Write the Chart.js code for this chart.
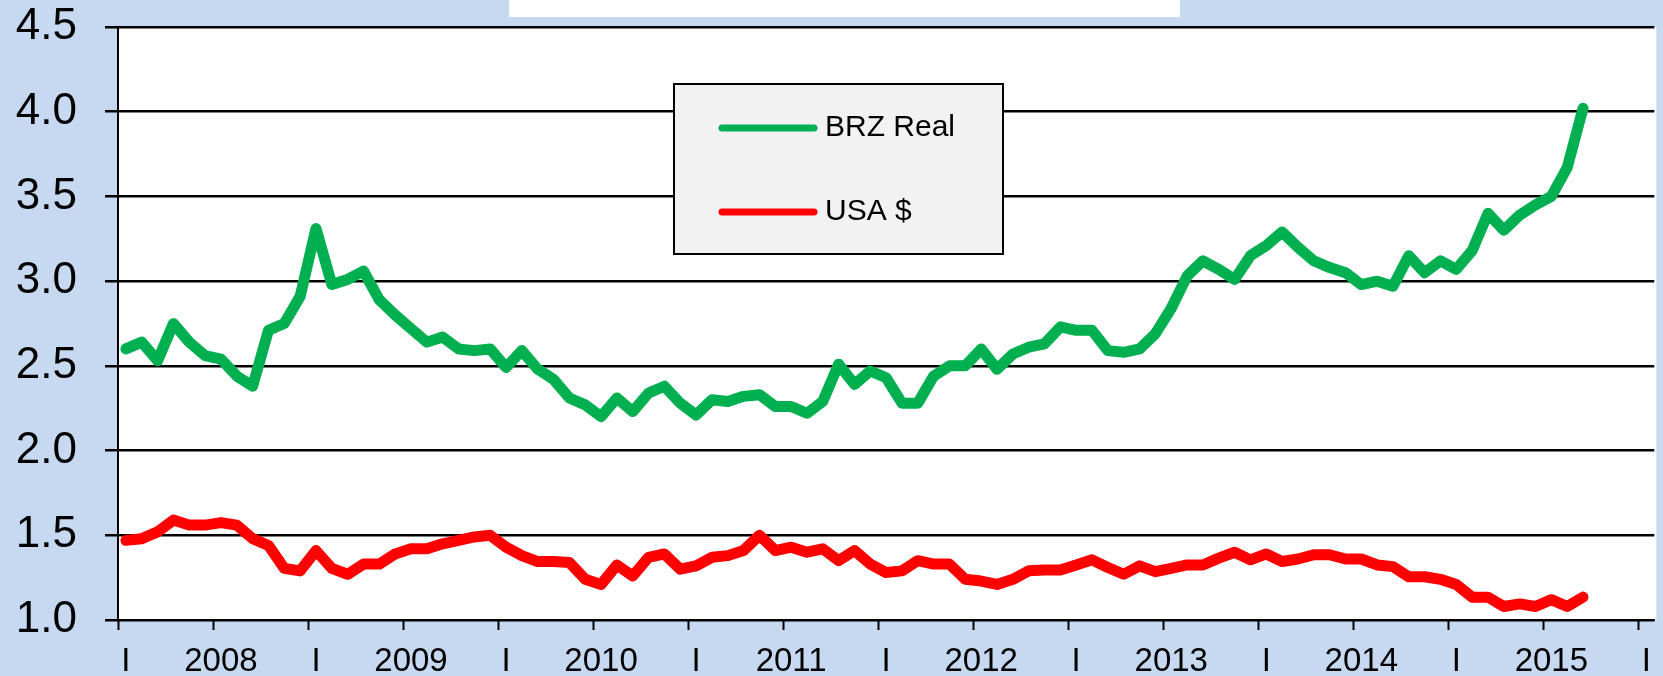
<!DOCTYPE html>
<html>
<head>
<meta charset="utf-8">
<script src="https://cdn.jsdelivr.net/npm/chart.js@4.4.0/dist/chart.umd.min.js"></script>
<style>
  html, body { margin: 0; padding: 0; background: #c6d9f1; }
  #wrap { width: 1663px; height: 676px; position: relative; }
</style>
</head>
<body>
<div id="wrap"><canvas id="fxChart"></canvas></div>
<script>
const years = [2008, 2009, 2010, 2011, 2012, 2013, 2014, 2015];

// one category per month, Jan 2008 .. Jan 2016
const categories = [];
years.forEach(y => {
    for (let m = 1; m <= 12; m++) categories.push(y + "-" + String(m).padStart(2, "0"));
});
categories.push("2016-01");

// a label every 6 months
const tickLabels = ["I", "2008", "I", "2009", "I", "2010", "I", "2011", "I",
    "2012", "I", "2013", "I", "2014", "I", "2015", "I"];

const brzReal = [
    2.60, 2.64, 2.53, 2.75, 2.64, 2.56, 2.54, 2.44, 2.38, 2.71, 2.75, 2.91,
    3.31, 2.98, 3.01, 3.06, 2.89, 2.80, 2.72, 2.64, 2.67, 2.60, 2.59, 2.60,
    2.49, 2.59, 2.48, 2.42, 2.31, 2.27, 2.20, 2.31, 2.23, 2.34, 2.38, 2.28,
    2.21, 2.30, 2.29, 2.32, 2.33, 2.26, 2.26, 2.22, 2.29, 2.51, 2.39, 2.47,
    2.43, 2.28, 2.28, 2.44, 2.50, 2.50, 2.60, 2.48, 2.57, 2.61, 2.63, 2.73,
    2.71, 2.71, 2.59, 2.58, 2.60, 2.69, 2.84, 3.03, 3.12, 3.07, 3.01, 3.15,
    3.21, 3.29, 3.20, 3.12, 3.08, 3.05, 2.98, 3.00, 2.97, 3.15, 3.05, 3.12,
    3.07, 3.18, 3.40, 3.30, 3.39, 3.45, 3.50, 3.67, 4.02
];

const usaDollar = [
    1.47, 1.48, 1.52, 1.59, 1.56, 1.56, 1.575, 1.56, 1.48, 1.44, 1.305, 1.29,
    1.41, 1.305, 1.27, 1.33, 1.33, 1.39, 1.42, 1.42, 1.45, 1.47, 1.49, 1.50,
    1.43, 1.38, 1.345, 1.345, 1.34, 1.24, 1.21, 1.325, 1.26, 1.37, 1.39, 1.30,
    1.32, 1.37, 1.38, 1.41, 1.50, 1.41, 1.43, 1.40, 1.42, 1.35, 1.41, 1.33,
    1.28, 1.29, 1.35, 1.33, 1.33, 1.24, 1.23, 1.21, 1.24, 1.29, 1.295, 1.295,
    1.325, 1.355, 1.31, 1.27, 1.32, 1.285, 1.305, 1.325, 1.325, 1.365, 1.40, 1.355,
    1.39, 1.345, 1.36, 1.385, 1.385, 1.36, 1.36, 1.325, 1.315, 1.255, 1.255, 1.24,
    1.21, 1.135, 1.135, 1.08, 1.095, 1.08, 1.12, 1.08, 1.135
];

const fontFamily = "'Liberation Sans', Arial, sans-serif";

// blue page, white plot area and the white strip at the top
const backdrop = {
    id: "backdrop",
    beforeDraw(chart) {
        const { ctx, chartArea: a } = chart;
        ctx.save();
        ctx.fillStyle = "#c6d9f1";
        ctx.fillRect(0, 0, chart.width, chart.height);
        ctx.fillStyle = "#ffffff";
        ctx.fillRect(a.left, a.top, a.right - a.left + 2, a.bottom - a.top);
        ctx.fillRect(509, 0, 671, 17);
        ctx.restore();
    }
};

// legend box drawn inside the plot, like the original
const boxLegend = {
    id: "boxLegend",
    afterDraw(chart) {
        const ctx = chart.ctx;
        ctx.save();
        ctx.fillStyle = "#f2f2f2";
        ctx.fillRect(674, 84, 329, 170);
        ctx.strokeStyle = "#000";
        ctx.lineWidth = 2;
        ctx.strokeRect(674, 84, 329, 170);

        chart.data.datasets.forEach((ds, i) => {
            const y = 128 + i * 84;
            ctx.strokeStyle = ds.borderColor;
            ctx.lineWidth = 7;
            ctx.lineCap = "round";
            ctx.beginPath();
            ctx.moveTo(722, y);
            ctx.lineTo(814, y);
            ctx.stroke();

            ctx.fillStyle = "#000";
            ctx.font = "30px " + fontFamily;
            ctx.textBaseline = "middle";
            ctx.textAlign = "left";
            ctx.fillText(ds.label, 825, y);
        });
        ctx.restore();
    }
};

new Chart(document.getElementById("fxChart"), {
    type: "line",
    data: {
        labels: categories,
        datasets: [{
            label: "BRZ Real",
            data: brzReal,
            borderColor: "#00b050",
            borderWidth: 11,
            borderCapStyle: "round",
            borderJoinStyle: "round",
            pointRadius: 0,
            tension: 0
        }, {
            label: "USA $",
            data: usaDollar,
            borderColor: "#ff0000",
            borderWidth: 11,
            borderCapStyle: "round",
            borderJoinStyle: "round",
            pointRadius: 0,
            tension: 0
        }]
    },
    options: {
        responsive: true,
        maintainAspectRatio: false,
        animation: false,
        layout: { padding: { top: 27, right: 8, left: 0, bottom: 0 } },
        plugins: {
            legend: { display: false },
            tooltip: { enabled: false }
        },
        scales: {
            x: {
                offset: true,
                afterFit: scale => { scale.height = 56; },
                border: { display: true, color: "#000", width: 2 },
                grid: {
                    offset: true,
                    drawOnChartArea: false,
                    drawTicks: true,
                    tickLength: 10,
                    tickWidth: 2,
                    color: "rgba(0,0,0,0)",
                    tickColor: ctx => (ctx.index % 6 === 0 ? "#000" : "rgba(0,0,0,0)")
                },
                ticks: {
                    autoSkip: false,
                    maxRotation: 0,
                    minRotation: 0,
                    padding: 12,
                    color: "#000",
                    font: { family: fontFamily, size: 33 },
                    callback: function (value, index) {
                        return index % 6 === 0 ? tickLabels[index / 6] : "";
                    }
                }
            },
            y: {
                min: 1,
                max: 4.5,
                afterFit: scale => {
                    scale.width = 118;
                    scale.paddingTop = 0;
                    scale.paddingBottom = 0;
                },
                border: { display: true, color: "#000", width: 2 },
                grid: {
                    color: "#000",
                    lineWidth: 2.5,
                    tickLength: 13,
                    tickWidth: 2.5,
                    tickColor: "#000"
                },
                ticks: {
                    stepSize: 0.5,
                    padding: 28,
                    color: "#000",
                    font: { family: fontFamily, size: 44 },
                    callback: function (value) {
                        return value.toFixed(1);
                    }
                }
            }
        }
    },
    plugins: [backdrop, boxLegend]
});
</script>
</body>
</html>
